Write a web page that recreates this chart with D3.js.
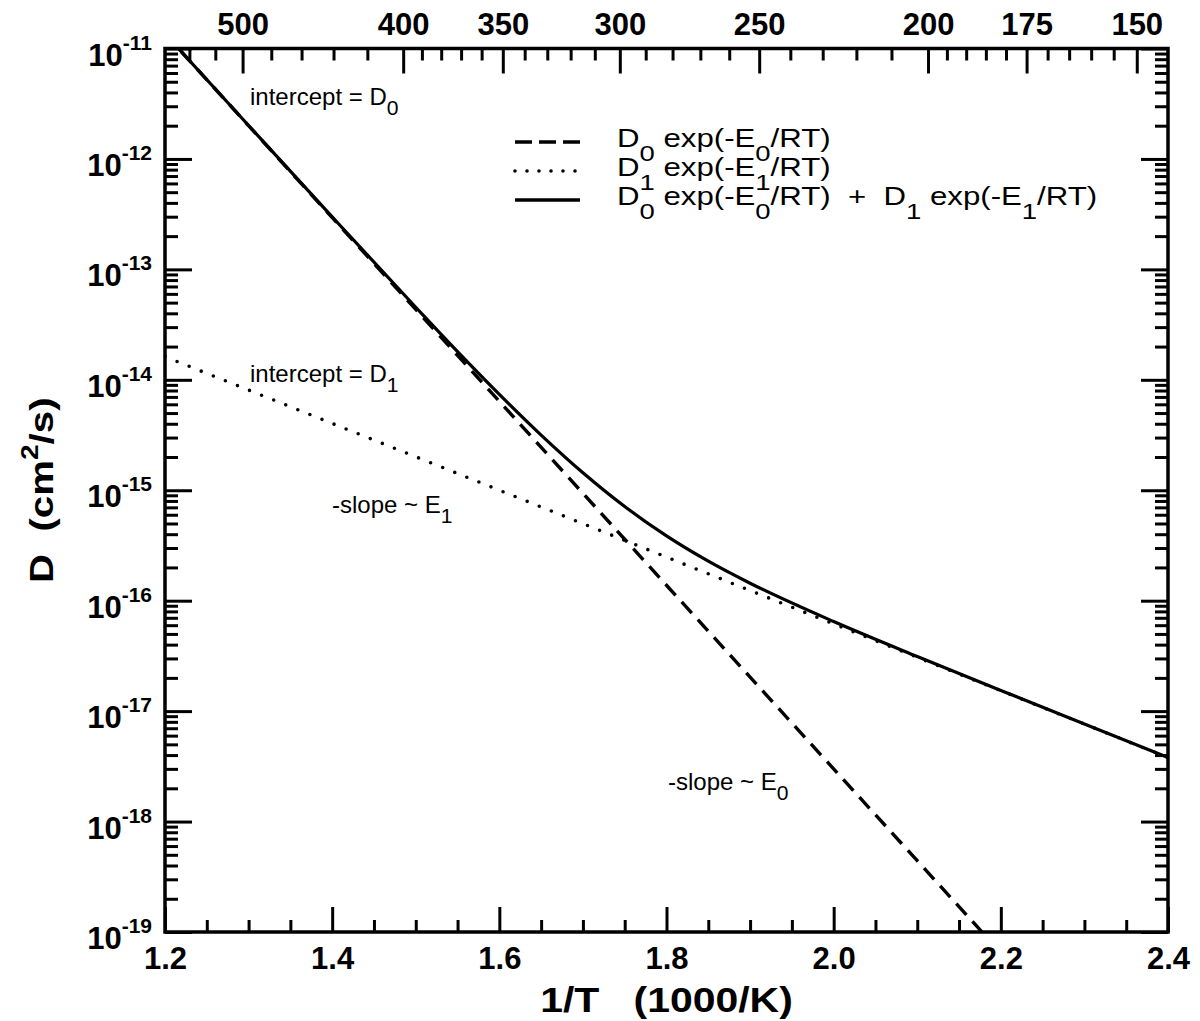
<!DOCTYPE html>
<html>
<head>
<meta charset="utf-8">
<script src="https://cdn.jsdelivr.net/npm/d3@7"></script>
<style>
  body { margin: 0; background: #fff; }
  text { font-family: "Liberation Sans", Arial, Helvetica, sans-serif; white-space: pre; }
</style>
</head>
<body>
<div id="Canvas"></div>
<script>
// data
// x = 1/T (1000/K), y = D (cm^2/s)
let dashed_x = [1.2, 1.5, 1.8, 2.1, 2.2]
let dashed_y = [1.36e-11, 4.34e-14, 1.38e-16, 4.42e-19, 6.5e-20]
let dotted_x = [1.2, 1.5, 1.8, 2.1, 2.4]
let dotted_y = [1.62e-14, 2.01e-15, 2.48e-16, 3.07e-17, 3.80e-18]
let solid_x = [1.2, 1.3, 1.4, 1.5, 1.55, 1.6, 1.65, 1.7, 1.75, 1.8, 1.85, 1.9, 2.0, 2.1, 2.2, 2.3, 2.4]
let solid_y = [1.36e-11, 2.01e-12, 2.99e-13, 4.54e-14, 1.80e-14, 7.38e-15, 3.16e-15, 1.44e-15, 7.12e-16,
               3.86e-16, 2.28e-16, 1.44e-16, 6.47e-17, 3.12e-17, 1.54e-17, 7.64e-18, 3.80e-18]

// ticks
let x_major = [1.2, 1.4, 1.6, 1.8, 2.0, 2.2, 2.4]
let x_minor = [1.25, 1.3, 1.35, 1.45, 1.5, 1.55, 1.65, 1.7, 1.75, 1.85, 1.9, 1.95, 2.05, 2.1, 2.15, 2.25, 2.3, 2.35]
let y_exponents = [-11, -12, -13, -14, -15, -16, -17, -18, -19]
let top_major = [500, 400, 350, 300, 250, 200, 175, 150]   // temperature in C
let top_minor = [540, 520, 480, 460, 440, 420, 390, 380, 370, 360, 340, 330, 320, 310,
                 290, 280, 270, 260, 240, 230, 220, 210, 195, 190, 185, 180, 170, 165, 160, 155]

let margin = {left: 165, right: 1168, top: 48.5, bottom: 932}

let svg = d3.select("#Canvas")
    .append("svg")
    .attr('width', 1200)
    .attr('height', 1021)

svg.append("rect").attr("width", 1200).attr("height", 1021).attr("fill", "white")

let xScale = d3.scaleLinear()
    .domain([1.2, 2.4])
    .range([margin.left, margin.right])
let yScale = d3.scaleLog()
    .domain([1e-19, 1e-11])
    .range([margin.bottom, margin.top])
// top axis: T in C -> 1000/(T+273.15)
let topPos = (t) => xScale(1000 / (t + 273.15))

// clip
svg.append("clipPath").attr("id", "clip")
    .append("rect")
    .attr("x", margin.left).attr("y", margin.top)
    .attr("width", margin.right - margin.left).attr("height", margin.bottom - margin.top)

let plotH = margin.bottom - margin.top
let plotW = margin.right - margin.left

// bottom axis
let bottomAxis = svg.append("g")
    .attr("transform", `translate(0,${margin.bottom})`)
bottomAxis.append("g")
    .call(d3.axisBottom(xScale).tickValues(x_minor).tickSizeInner(-12).tickSizeOuter(0).tickFormat(""))
bottomAxis.append("g")
    .call(d3.axisBottom(xScale).tickValues(x_major).tickSizeInner(-25).tickSizeOuter(0).tickFormat(d3.format(".1f")))
bottomAxis.selectAll("text")
    .attr("font-size", 31).attr("font-weight", "bold").attr("fill", "black")
    .attr("y", 37).attr("dy", 0)

// top axis (temperature)
let topAxis = svg.append("g")
    .attr("transform", `translate(0,${margin.top})`)
topAxis.selectAll(".minor")
    .data(top_minor)
    .enter()
    .append("line")
    .attr("x1", d => topPos(d)).attr("x2", d => topPos(d))
    .attr("y1", 0).attr("y2", 12)
topAxis.selectAll(".major")
    .data(top_major)
    .enter()
    .append("line")
    .attr("x1", d => topPos(d)).attr("x2", d => topPos(d))
    .attr("y1", 0).attr("y2", 25)
topAxis.selectAll("text")
    .data(top_major)
    .enter()
    .append("text")
    .attr("x", d => topPos(d))
    .attr("y", -14)
    .attr("text-anchor", "middle")
    .attr("font-size", 31).attr("font-weight", "bold")
    .text(d => d)
topAxis.selectAll("line").attr("stroke", "black").attr("stroke-width", 3)

// y ticks, left and right
let y_minor = []
y_exponents.forEach(e => {
    if (e == -11) return
    for (var k = 2; k <= 9; k++) y_minor.push(k * Math.pow(10, e))
})
let y_major = y_exponents.map(e => Math.pow(10, e))

let leftAxis = svg.append("g").attr("transform", `translate(${margin.left},0)`)
leftAxis.append("g")
    .call(d3.axisLeft(yScale).tickValues(y_minor).tickSizeInner(-13).tickSizeOuter(0).tickFormat(""))
leftAxis.append("g")
    .call(d3.axisLeft(yScale).tickValues(y_major).tickSizeInner(-27).tickSizeOuter(0).tickFormat(""))
let rightAxis = svg.append("g").attr("transform", `translate(${margin.right},0)`)
rightAxis.append("g")
    .call(d3.axisRight(yScale).tickValues(y_minor).tickSizeInner(-13).tickSizeOuter(0).tickFormat(""))
rightAxis.append("g")
    .call(d3.axisRight(yScale).tickValues(y_major).tickSizeInner(-27).tickSizeOuter(0).tickFormat(""))

svg.selectAll(".domain").remove()
svg.selectAll(".tick line").attr("stroke", "black").attr("stroke-width", 3)

// 10^n labels
let ylab = svg.append("g")
    .selectAll("text")
    .data(y_exponents)
    .enter()
    .append("text")
    .attr("x", margin.left - 13)
    .attr("y", d => yScale(Math.pow(10, d)) + 17)
    .attr("text-anchor", "end")
    .attr("font-weight", "bold")
ylab.append("tspan").attr("font-size", 31).text("10")
ylab.append("tspan").attr("font-size", 21).attr("dy", -16).text(d => d)

// frame
svg.append("rect")
    .attr("x", margin.left).attr("y", margin.top)
    .attr("width", plotW).attr("height", plotH)
    .attr("fill", "none").attr("stroke", "black").attr("stroke-width", 3.5)

// curves
let line = d3.line()
    .x(d => xScale(d[0]))
    .y(d => yScale(d[1]))
let smooth = d3.line()
    .x(d => xScale(d[0]))
    .y(d => yScale(d[1]))
    .curve(d3.curveMonotoneX)

let curves = svg.append("g").attr("clip-path", "url(#clip)")
curves.append("path")
    .datum(dotted_x.map((x, i) => [x, dotted_y[i]]))
    .attr("d", line)
    .attr("fill", "none").attr("stroke", "black").attr("stroke-width", 3.6)
    .attr("stroke-dasharray", "0,13").attr("stroke-linecap", "round")
curves.append("path")
    .datum(dashed_x.map((x, i) => [x, dashed_y[i]]))
    .attr("d", line)
    .attr("fill", "none").attr("stroke", "black").attr("stroke-width", 3.4)
    .attr("stroke-dasharray", "15,9")
curves.append("path")
    .datum(solid_x.map((x, i) => [x, solid_y[i]]))
    .attr("d", smooth)
    .attr("fill", "none").attr("stroke", "black").attr("stroke-width", 3.2)

// text with subscripts (sub drops by dy, next piece comes back up)
function subText(parent, x, y, parts, size, drop) {
    let t = parent.append("text").attr("x", x).attr("y", y).attr("font-size", size)
    let down = false
    parts.forEach(p => {
        if (p.sub) {
            t.append("tspan").attr("font-size", size * 0.88).attr("dy", drop).text(p.sub)
            down = true
        } else {
            let s = t.append("tspan").attr("font-size", size).text(p.t)
            if (down) { s.attr("dy", -drop); down = false }
        }
    })
    return t
}
subText(svg, 250, 105, [{t: "intercept = D"}, {sub: "0"}], 24, 10)
subText(svg, 250, 382, [{t: "intercept = D"}, {sub: "1"}], 24, 10)
subText(svg, 332, 513, [{t: "-slope ~ E"}, {sub: "1"}], 24, 10)
subText(svg, 668, 790, [{t: "-slope ~ E"}, {sub: "0"}], 24, 10)

// legend
let legend_rows = [
    {dash: "17,7", cap: "butt", y: 142, parts: [{t: "D"}, {sub: "0"}, {t: " exp(-E"}, {sub: "0"}, {t: "/RT)"}]},
    {dash: "0,12", cap: "round", y: 171, parts: [{t: "D"}, {sub: "1"}, {t: " exp(-E"}, {sub: "1"}, {t: "/RT)"}]},
    {dash: null, cap: "butt", y: 200, parts: [{t: "D"}, {sub: "0"}, {t: " exp(-E"}, {sub: "0"}, {t: "/RT)  +  D"}, {sub: "1"}, {t: " exp(-E"}, {sub: "1"}, {t: "/RT)"}]}
]
legend_rows.forEach(r => {
    svg.append("line")
        .attr("x1", 515).attr("x2", 580)
        .attr("y1", r.y).attr("y2", r.y)
        .attr("stroke", "black").attr("stroke-width", r.dash == "0,12" ? 3.6 : 3.4)
        .attr("stroke-dasharray", r.dash)
        .attr("stroke-linecap", r.cap)
    let g = svg.append("g").attr("transform", `translate(617,${r.y + 5}) scale(1.2,1)`)
    subText(g, 0, 0, r.parts, 26, 14)
})

// axis titles
svg.append("g")
    .attr("transform", `translate(${(margin.left + margin.right) / 2},1012) scale(1.17,1)`)
    .append("text")
    .attr("text-anchor", "middle")
    .attr("font-size", 35).attr("font-weight", "bold")
    .text("1/T   (1000/K)")
let ytitle = svg.append("g")
    .attr("transform", `translate(53,${(margin.top + margin.bottom) / 2}) rotate(-90) scale(1.22,1)`)
    .append("text")
    .attr("text-anchor", "middle")
    .attr("font-size", 33).attr("font-weight", "bold")
ytitle.append("tspan").text("D  (cm")
ytitle.append("tspan").attr("font-size", 23).attr("dy", -15).text("2")
ytitle.append("tspan").attr("dy", 15).text("/s)")
</script>
</body>
</html>
